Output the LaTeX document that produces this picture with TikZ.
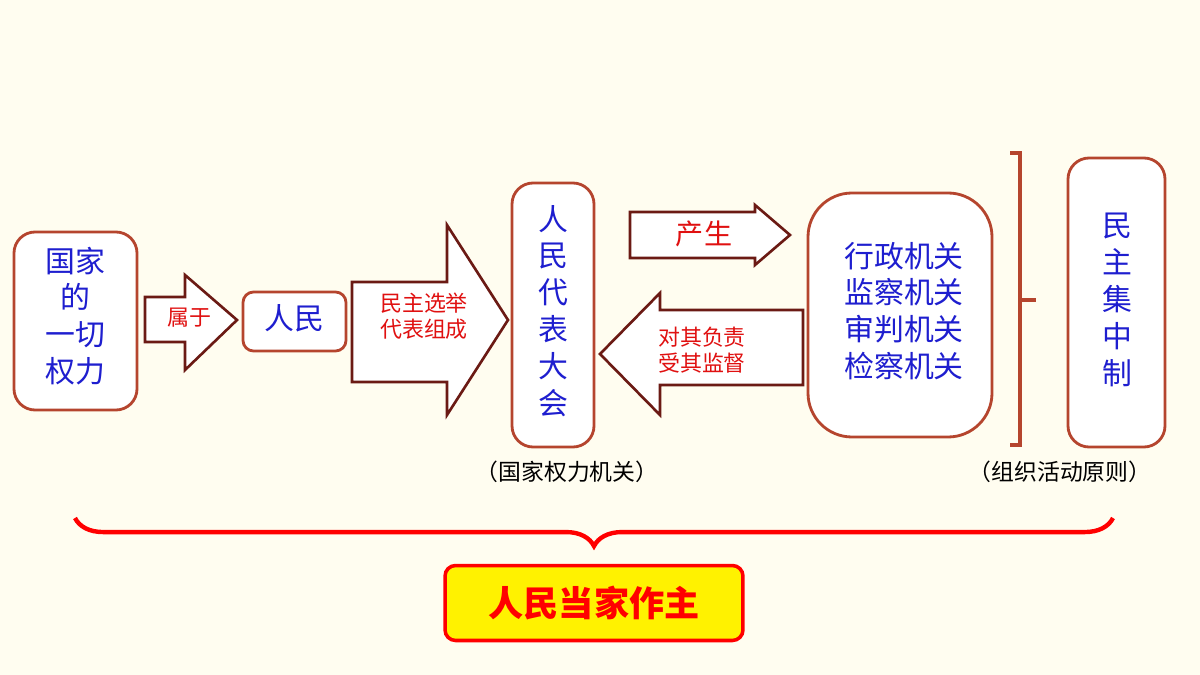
\documentclass[tikz,border=0pt]{standalone}
\usepackage{fontspec}
\setmainfont{Noto Sans CJK SC}
\usetikzlibrary{positioning,decorations.pathreplacing}
\definecolor{bg}{HTML}{FFFDF0}
\definecolor{edge}{HTML}{B5452E}
\definecolor{arr}{HTML}{6B1A14}
\definecolor{txtblue}{HTML}{1E1ECF}
\definecolor{txtred}{HTML}{E01010}
\tikzset{organ/.style={draw=edge,line width=1.6pt,fill=white,rounded corners=12pt,text=txtblue,font=\fontsize{17}{21}\selectfont,align=center}}
\tikzset{blockarrow/.style={draw=arr,line width=1.5pt,fill=white,line join=miter}}
\tikzset{arrlabel/.style={text=txtred,font=\fontsize{12.5}{15}\selectfont,align=center}}
\tikzset{note/.style={font=\fontsize{13}{16}\selectfont}}

\begin{document}
\begin{tikzpicture}[x=0.02cm,y=-0.02cm]
    \fill[bg] (0,0) rectangle (1200,675);
    % organs
    \draw[organ] (14,232) rectangle (137,410);
    \node[text=txtblue,font=\fontsize{17}{21}\selectfont,align=center] (power) at (75,316) {国家\\的\\一切\\权力};
    \draw[organ,rounded corners=6pt] (243,292) rectangle (346,351);
    \node[text=txtblue,font=\fontsize{17}{21}\selectfont] (people) at (294,318) {人民};
    \draw[organ] (512,183) rectangle (594,447);
    \node[text=txtblue,font=\fontsize{17}{21}\selectfont,align=center] (npc) at (553,311) {人\\民\\代\\表\\大\\会};
    \draw[organ,rounded corners=25pt] (808,193) rectangle (992,437);
    \node[text=txtblue,font=\fontsize{17}{21}\selectfont,align=center] (organs) at (904,311) {行政机关\\监察机关\\审判机关\\检察机关};
    \draw[organ] (1068,158) rectangle (1165,447);
    \node[text=txtblue,font=\fontsize{17}{21}\selectfont,align=center] (principle) at (1117,300) {民\\主\\集\\中\\制};

    % block arrows
    \draw[blockarrow] (145,297) -- (185,297) -- (185,275) -- (237,320) -- (185,370) -- (185,342) -- (145,342) -- cycle;
    \node[arrlabel] (belong) at (189,318) {属于};
    \draw[blockarrow] (352,282) -- (447,282) -- (447,225) -- (508,320) -- (447,415) -- (447,382) -- (352,382) -- cycle;
    \node[arrlabel] (elect) at (424,316) {民主选举\\代表组成};
    \draw[blockarrow] (630,212) -- (755,212) -- (755,205) -- (790,235) -- (755,265) -- (755,258) -- (630,258) -- cycle;
    \node[arrlabel,font=\fontsize{16}{19}\selectfont] (produce) at (704,234) {产生};
    \draw[blockarrow] (803,310) -- (660,310) -- (660,293) -- (600,354) -- (660,415) -- (660,385) -- (803,385) -- cycle;
    \node[arrlabel] (resp) at (702,350) {对其负责\\受其监督};

    % brackets
    \draw[edge,line width=2pt] (1010,153) -- (1020,153) -- (1020,445) -- (1010,445);
    \draw[edge,line width=2pt] (1020,300) -- (1036,300);
    \node[note] (lbl1) at (567,472) {（国家权力机关）};
    \node[note] (lbl2) at (1060,472) {（组织活动原则）};
    \draw[red,line width=2.5pt,decorate,decoration={brace,mirror,amplitude=16pt}] (75,518) -- (1113,518);
    \node[draw=red,line width=2pt,fill=yellow,rounded corners=6pt,minimum width=5.96cm,minimum height=1.5cm,text=red,font=\bfseries\fontsize{20}{24}\selectfont] (master) at (594,603) {人民当家作主};
\end{tikzpicture}
\end{document}
